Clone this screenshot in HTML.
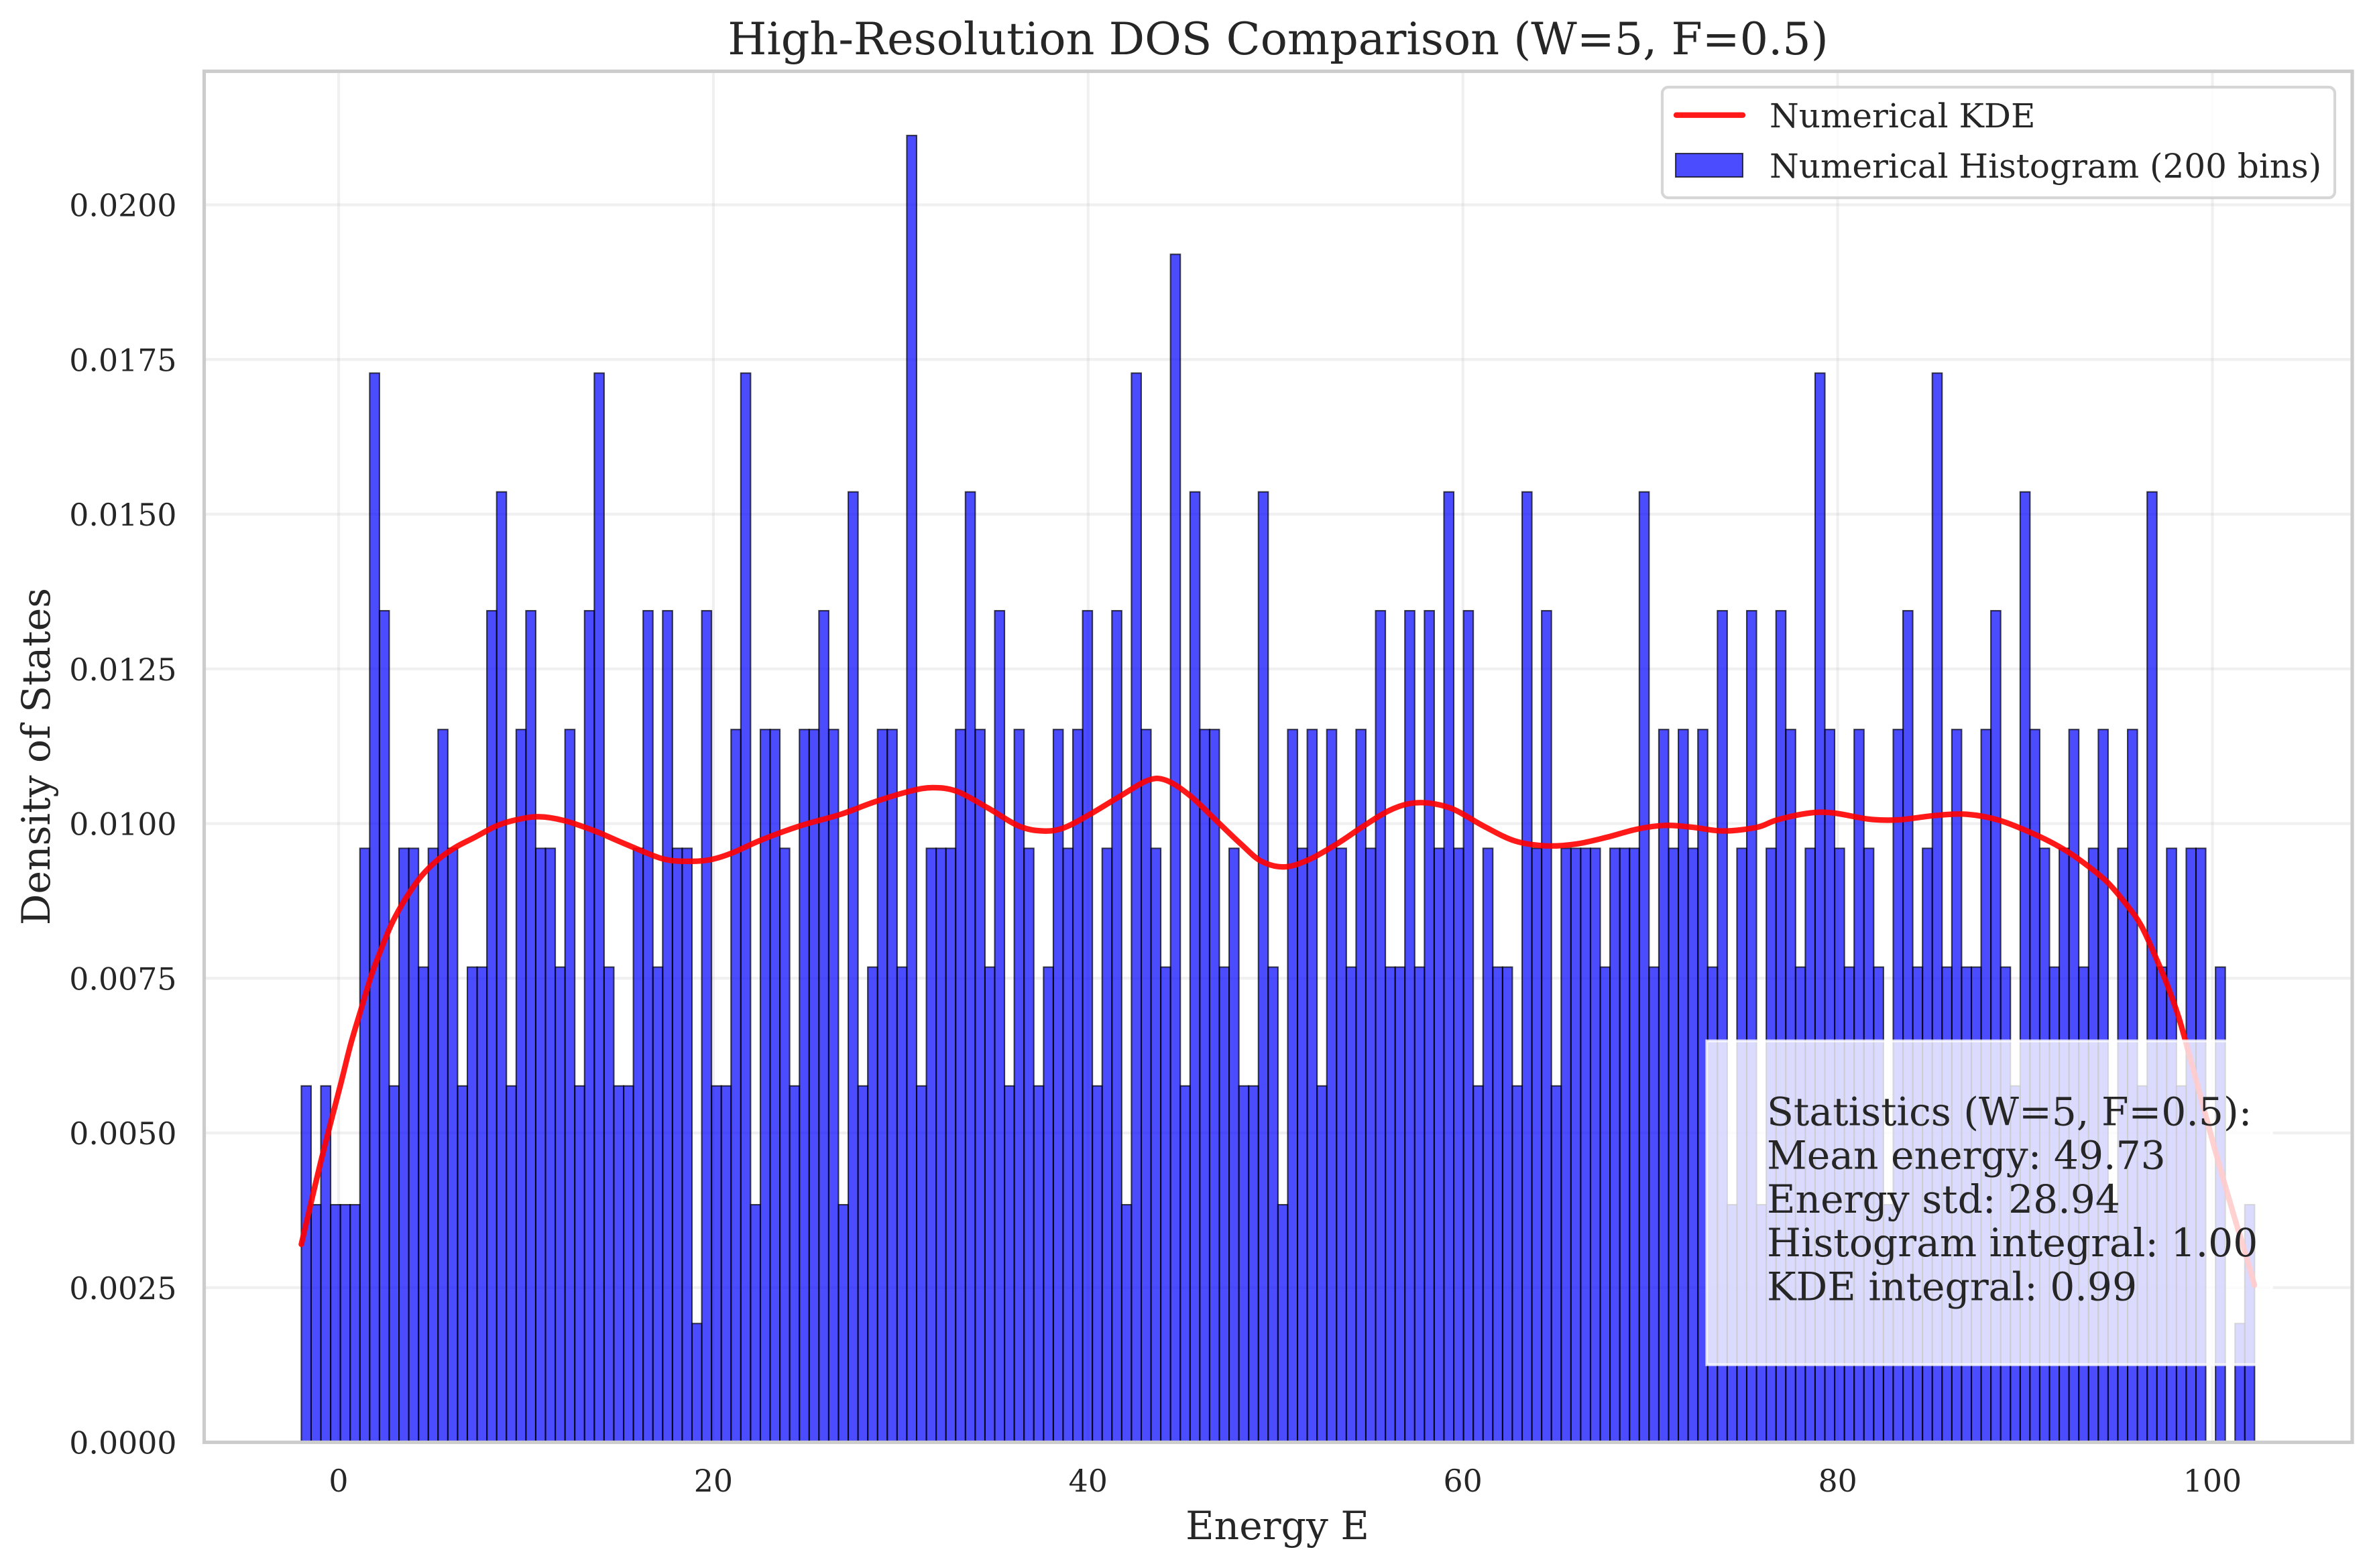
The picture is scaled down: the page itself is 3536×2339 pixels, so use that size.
<!DOCTYPE html>
<html lang="en">
<head>
<meta charset="utf-8">
<title>High-Resolution DOS Comparison</title>
<style>
html,body{margin:0;padding:0;background:#fff;}
svg{display:block;}
text{font-family:"DejaVu Serif","Liberation Serif",serif;fill:#262626;}
</style>
</head>
<body>
<svg id="chart" xmlns="http://www.w3.org/2000/svg" width="3536" height="2339" viewBox="0 0 3536 2339">
  <rect x="0" y="0" width="3536" height="2339" fill="#ffffff"/>
  <g id="grid"></g>
  <g id="bars"></g>
  <path id="kde" fill="none" stroke="#ff0000" stroke-opacity="0.9" stroke-width="8.33" stroke-linecap="round" stroke-linejoin="round"/>
  <g stroke="#cccccc" stroke-width="5.2" fill="none">
    <rect x="304.5" y="106.3" width="3203.5" height="2045.2"/>
  </g>
  <g id="xticks"></g>
  <g id="yticks"></g>

  <text x="1906" y="81" text-anchor="middle" font-size="66.7">High-Resolution DOS Comparison (W=5, F=0.5)</text>
  <text x="1905" y="2296" text-anchor="middle" font-size="58.3">Energy E</text>
  <text transform="translate(74 1128.5) rotate(-90)" text-anchor="middle" font-size="58.3">Density of States</text>

  <g>
    <rect x="2479" y="130" width="1003" height="165" rx="9" ry="9" fill="#ffffff" fill-opacity="0.8" stroke="#cccccc" stroke-opacity="0.8" stroke-width="4.17"/>
    <line x1="2500" y1="171.7" x2="2599" y2="171.7" stroke="#ff0000" stroke-opacity="0.9" stroke-width="8.33" stroke-linecap="round"/>
    <text x="2639" y="190" font-size="50">Numerical KDE</text>
    <rect x="2499" y="229" width="100" height="35" fill="#0000ff" fill-opacity="0.7" stroke="#000000" stroke-opacity="0.7" stroke-width="2.08"/>
    <text x="2639" y="265" font-size="50">Numerical Histogram (200 bins)</text>
  </g>

  <g>
    <rect x="2545.5" y="1552.7" width="842.5" height="483" fill="#ffffff" fill-opacity="0.8" stroke="#ffffff" stroke-opacity="0.8" stroke-width="4.17"/>
    <text x="2635" y="1678.6" font-size="58.3">Statistics (W=5, F=0.5):</text>
    <text x="2635" y="1743.6" font-size="58.3">Mean energy: 49.73</text>
    <text x="2635" y="1809" font-size="58.3">Energy std: 28.94</text>
    <text x="2635" y="1874.2" font-size="58.3">Histogram integral: 1.00</text>
    <text x="2635" y="1939.7" font-size="58.3">KDE integral: 0.99</text>
  </g>
</svg>
<script>
var xTickValues = [0, 20, 40, 60, 80, 100];
var xTickLabels = ["0", "20", "40", "60", "80", "100"];
var yTickValues = [0, 0.0025, 0.005, 0.0075, 0.01, 0.0125, 0.015, 0.0175, 0.02];
var yTickLabels = ["0.0000", "0.0025", "0.0050", "0.0075", "0.0100", "0.0125", "0.0150", "0.0175", "0.0200"];

var histBinStart = -1.99;
var histBinWidth = 0.5212;
var histDensityPerCount = 0.00192;
var histCounts = [
  3,2,3,2,2,2,5,9,7,3,
  5,5,4,5,6,5,3,4,4,7,
  8,3,6,7,5,5,4,6,3,7,
  9,4,3,3,5,7,4,7,5,5,
  1,7,3,3,6,9,2,6,6,5,
  3,6,6,7,6,2,8,3,4,6,
  6,4,11,3,5,5,5,6,8,6,
  4,7,3,6,5,3,4,6,5,6,
  7,3,5,7,2,9,6,5,4,10,
  3,8,6,6,4,5,3,3,8,4,
  2,6,5,6,3,6,5,4,6,5,
  7,4,4,7,4,7,5,8,5,7,
  3,5,4,4,3,8,5,7,3,5,
  5,5,5,4,5,5,5,8,4,6,
  5,6,5,6,4,7,2,5,7,2,
  5,7,6,4,5,9,6,5,4,6,
  5,4,2,6,7,4,5,9,4,6,
  4,4,6,7,4,3,8,6,5,4,
  5,6,4,5,6,2,5,6,3,8,
  4,5,3,5,5,0,4,0,1,2
];

var kdeEnergy = [-1.99,-1.49,-0.956,-0.42,0.12,0.65,1.19,1.73,2.27,2.8,3.34,3.88,4.47,5.31,6.26,7.22,8.41,9.48,10.67,12.0,13.67,15.3,17.3,18.8,19.9,20.96,22.6,24.6,26.8,28.6,30.45,31.7,33.0,34.66,36.3,37.6,38.7,40.1,41.8,43.2,44.15,45.4,46.9,48.15,49.25,50.5,51.8,53.27,54.7,56.0,57.1,58.2,59.5,61.1,62.76,64.4,66.05,67.7,69.3,70.8,72.25,73.9,75.7,76.77,78.5,79.8,81.7,83.25,85.2,86.9,88.65,90.7,92.14,93.33,94.4,95.36,96.2,97.03,97.63,98.23,98.8,99.4,100.0,100.6,101.2,101.8,102.24];
var kdeDensity = [0.0032,0.00385,0.00453,0.00517,0.0058,0.00644,0.00699,0.00753,0.00797,0.00836,0.00867,0.00893,0.00917,0.00942,0.00962,0.00977,0.00996,0.01006,0.01011,0.01005,0.00988,0.00967,0.00943,0.00939,0.00942,0.00952,0.00974,0.00996,0.01015,0.01035,0.01052,0.01058,0.01052,0.01025,0.00996,0.00988,0.00993,0.01015,0.01046,0.0107,0.0107,0.01046,0.01003,0.00967,0.00939,0.0093,0.00942,0.00967,0.00996,0.0102,0.01032,0.01033,0.01023,0.00996,0.00972,0.00964,0.00967,0.00978,0.00991,0.00997,0.00994,0.00988,0.00994,0.01006,0.01017,0.01017,0.01007,0.01006,0.01013,0.01015,0.01005,0.0098,0.00957,0.00932,0.00905,0.00871,0.00835,0.0078,0.00736,0.00684,0.00622,0.00555,0.00488,0.00423,0.00361,0.00301,0.00254];

var SVG_NS = 'http://www.w3.org/2000/svg';
var AXIS_LEFT = 304.5, AXIS_RIGHT = 3508, AXIS_TOP = 106.3, AXIS_BOTTOM = 2151.5;

function xScale(e) { return 505 + 27.945 * e; }
function yScale(v) { return AXIS_BOTTOM - 92300 * v; }

function make(tag, attrs, parent) {
  var el = document.createElementNS(SVG_NS, tag);
  for (var k in attrs) { el.setAttribute(k, attrs[k]); }
  parent.appendChild(el);
  return el;
}

var gridGroup = document.getElementById('grid');
var barGroup = document.getElementById('bars');
var xTickGroup = document.getElementById('xticks');
var yTickGroup = document.getElementById('yticks');

xTickValues.forEach(function (value, i) {
  var px = xScale(value);
  var line = make('line', { x1: px, x2: px, y1: AXIS_TOP, y2: AXIS_BOTTOM, stroke: '#cccccc', 'stroke-opacity': 0.3, 'stroke-width': 4.17 }, gridGroup);
  
  
  var label = make('text', { x: px, y: 2225, 'text-anchor': 'middle', 'font-size': 45.8 }, xTickGroup);
  
  
  label.textContent = xTickLabels[i];
});

yTickValues.forEach(function (value, i) {
  var py = yScale(value);
  var line = make('line', { x1: AXIS_LEFT, x2: AXIS_RIGHT, y1: py, y2: py, stroke: '#cccccc', 'stroke-opacity': 0.3, 'stroke-width': 4.17 }, gridGroup);
  
  
  var label = make('text', { x: 263.5, y: py + 17, 'text-anchor': 'end', 'font-size': 45.8 }, yTickGroup);
  
  
  label.textContent = yTickLabels[i];
});

histCounts.forEach(function (count, i) {
  var x0 = xScale(histBinStart + i * histBinWidth);
  var x1 = xScale(histBinStart + (i + 1) * histBinWidth);
  var y0 = yScale(count * histDensityPerCount);
  var bar = make('rect', {
    x: x0, y: y0, width: x1 - x0, height: yScale(0) - y0,
    fill: '#0000ff', 'fill-opacity': 0.7,
    stroke: '#000000', 'stroke-opacity': 0.7, 'stroke-width': 2.08
  }, barGroup);
  
  
});

(function drawKde() {
  var pts = kdeEnergy.map(function (e, i) { return [xScale(e), yScale(kdeDensity[i])]; });
  var d = 'M' + pts[0][0].toFixed(2) + ' ' + pts[0][1].toFixed(2);
  for (var i = 0; i < pts.length - 1; i++) {
    var p0 = pts[Math.max(i - 1, 0)], p1 = pts[i], p2 = pts[i + 1], p3 = pts[Math.min(i + 2, pts.length - 1)];
    var c1x = p1[0] + (p2[0] - p0[0]) / 6, c1y = p1[1] + (p2[1] - p0[1]) / 6;
    var c2x = p2[0] - (p3[0] - p1[0]) / 6, c2y = p2[1] - (p3[1] - p1[1]) / 6;
    d += 'C' + c1x.toFixed(2) + ' ' + c1y.toFixed(2) + ' ' + c2x.toFixed(2) + ' ' + c2y.toFixed(2) + ' ' + p2[0].toFixed(2) + ' ' + p2[1].toFixed(2);
  }
  document.getElementById('kde').setAttribute('d', d);
})();
</script>
</body>
</html>
